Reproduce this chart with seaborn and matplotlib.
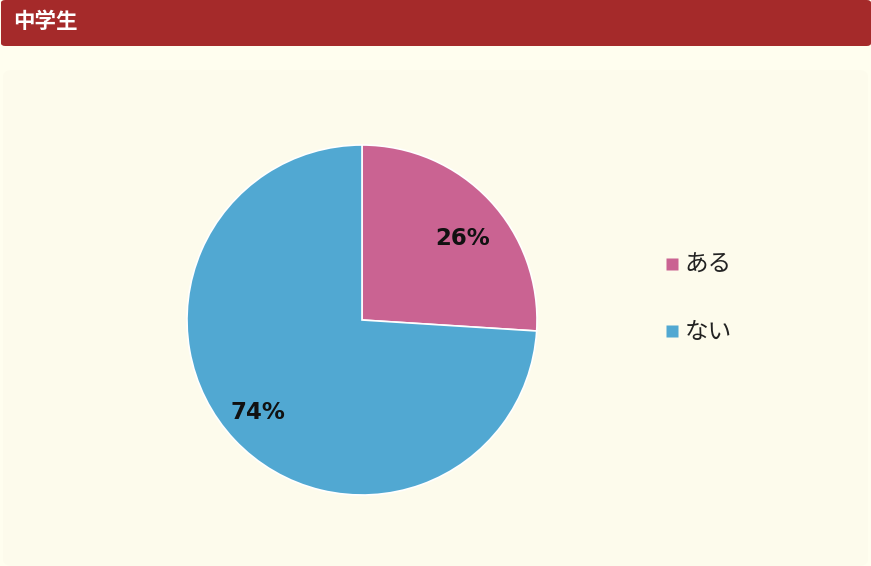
import matplotlib
matplotlib.use("Agg")
import matplotlib.pyplot as plt
import matplotlib.transforms as mtransforms
import seaborn as sns
from matplotlib.patches import FancyBboxPatch
from matplotlib.lines import Line2D

# data
title = "中学生"
labels = ["ある", "ない"]
shares = [26, 74]
colors = ["#CA6392", "#51A8D2"]

sns.set_style("white")
plt.rcParams['font.family'] = ['Noto Sans CJK JP', 'DejaVu Sans']

W, H = 871, 566
fig = plt.figure(figsize=(W / 100, H / 100), dpi=100)
fig.patch.set_facecolor("#FFFEEF")

# inner panel and header bar (behind the axes)
fig.patches.append(FancyBboxPatch((3 / W, 0), (W - 6) / W, (H - 70) / H,
                                  boxstyle="round,pad=0,rounding_size=0.012",
                                  transform=fig.transFigure, facecolor="#FDFBEC",
                                  edgecolor="none", zorder=-2))
fig.patches.append(FancyBboxPatch((1 / W, (H - 46) / H), (W - 1) / W, 46 / H,
                                  boxstyle="round,pad=0,rounding_size=0.005",
                                  transform=fig.transFigure, facecolor="#A52A2A",
                                  edgecolor="none", zorder=-1))
fig.text(13 / W, (H - 22) / H, title, color="white", fontsize=15.5,
         fontweight="bold", va="center", ha="left")

# pie
cx, cy, r = 362, 320, 175
ax = fig.add_axes([(cx - r) / W, (H - cy - r) / H, 2 * r / W, 2 * r / H])
ax.set_facecolor("none")
wedges, texts, autotexts = ax.pie(shares, colors=colors, startangle=90, counterclock=False,
                                  autopct="%d%%", pctdistance=0.77,
                                  wedgeprops=dict(edgecolor="white", linewidth=1.2),
                                  textprops=dict(fontsize=16.5, fontweight="bold",
                                                 family="DejaVu Sans", color="#111111"))
# small nudges so the labels sit where the original ones do
nudges = [(2, -11), (-6, 0)]
for t, (dx, dy) in zip(autotexts, nudges):
    t.set_transform(mtransforms.offset_copy(ax.transData, fig=fig, x=dx, y=dy, units="dots"))
ax.set_xlim(-1, 1)
ax.set_ylim(-1, 1)
ax.axis("off")

# legend
handles = [Line2D([], [], marker="s", linestyle="none", markersize=8.6,
                  markerfacecolor=c, markeredgecolor="none") for c in colors]
fig.legend(handles, labels, loc="center left", bbox_to_anchor=(641 / W, (H - 299) / H),
           frameon=False, fontsize=17, labelspacing=1.85, handletextpad=0.15,
           handlelength=0.8, labelcolor="#222222")

fig.savefig("out.png", dpi=100, facecolor=fig.get_facecolor())
